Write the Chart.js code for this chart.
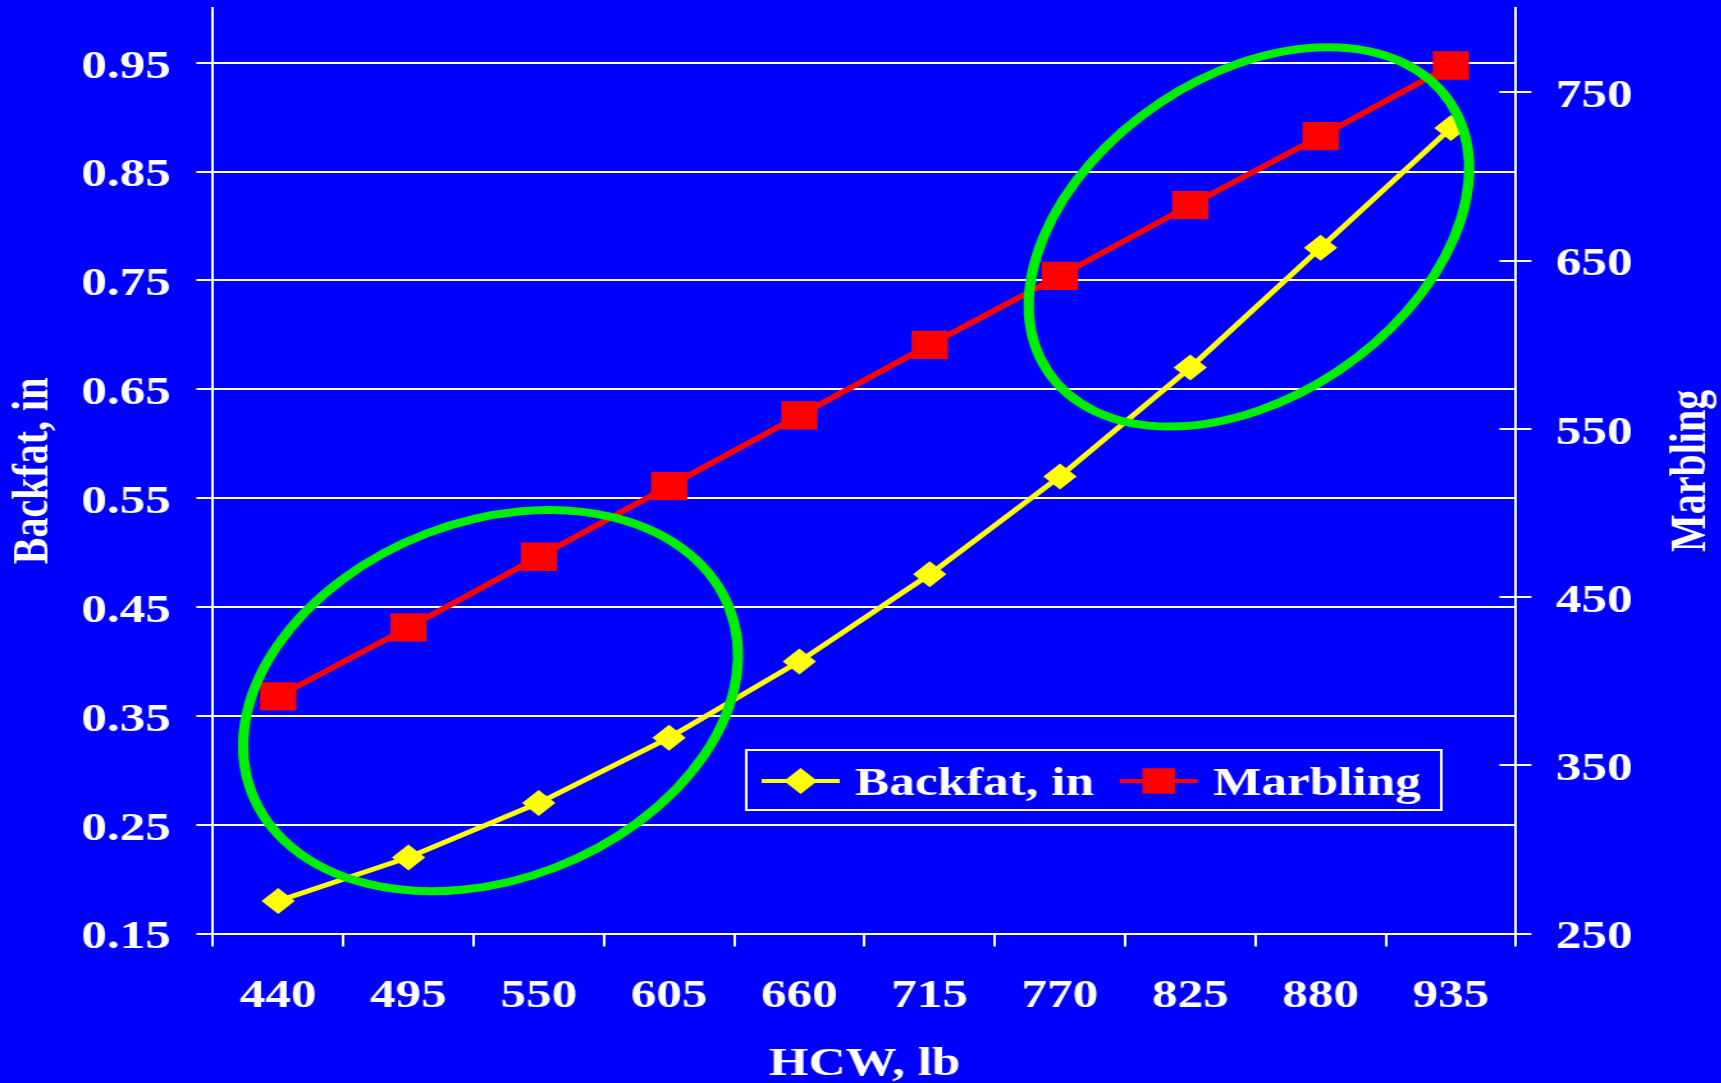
<!DOCTYPE html>
<html>
<head>
<meta charset="utf-8">
<script src="https://cdn.jsdelivr.net/npm/chart.js@4/dist/chart.umd.min.js"></script>
<style>
  html, body { margin: 0; padding: 0; background: #0000ff; overflow: hidden; }
  /* the slide artwork is drawn narrow and widened horizontally */
  #wrap { width: 1345px; height: 1083px; transform: scaleX(1.28); transform-origin: 0 0; }
  canvas { display: block; }
</style>
</head>
<body>
<div id="wrap"><canvas id="chart" width="1345" height="1083"></canvas></div>
<script>
// Hot carcass weight classes (lb)
const hcwLabels = ['440', '495', '550', '605', '660', '715', '770', '825', '880', '935'];
// Backfat thickness (in) per weight class
const backfat = [0.18, 0.22, 0.27, 0.33, 0.40, 0.48, 0.57, 0.67, 0.78, 0.89];
// Marbling score per weight class
const marbling = [391, 432, 474, 516, 558, 600, 641, 683, 724, 766];
// Axis tick values
const backfatTicks = [0.15, 0.25, 0.35, 0.45, 0.55, 0.65, 0.75, 0.85, 0.95];
const marblingTicks = [250, 350, 450, 550, 650, 750];
// Highlighted groups: centre on the weight axis (class index) and backfat axis
const groupCenterIndex = [1.63, 7.45];
const groupCenterBackfat = [0.364, 0.79];

const STRETCH = 1.28;
const FONT = '"Liberation Serif", "Times New Roman", serif';
const WHITE = '#ffffff';

Chart.defaults.font.family = FONT;
Chart.defaults.font.size = 40;
Chart.defaults.font.weight = 'bold';
Chart.defaults.color = WHITE;

// Ellipse outlines around the two groups (radii / tilt in screen pixels)
const groupShapes = [
  { rx: 256, ry: 179, tilt: -21 },
  { rx: 242, ry: 161, tilt: -33.7 }
];

const extrasPlugin = {
  id: 'extras',
  beforeDatasetsDraw(chart) {
    // right axis ticks cross the axis line
    const ctx = chart.ctx;
    const s = chart.scales.y2;
    ctx.save();
    ctx.strokeStyle = WHITE;
    ctx.lineWidth = 2;
    s.ticks.forEach(t => {
      const y = Math.round(s.getPixelForValue(t.value));
      ctx.beginPath();
      ctx.moveTo(s.left - 13, y);
      ctx.lineTo(s.left, y);
      ctx.stroke();
    });
    ctx.restore();
  },
  afterDatasetsDraw(chart) {
    const ctx = chart.ctx;
    const xs = chart.scales.x, ys = chart.scales.y;
    ctx.save();
    ctx.strokeStyle = '#00ee00';
    ctx.lineWidth = 8;
    groupShapes.forEach((g, i) => {
      const cx = xs.getPixelForValue(groupCenterIndex[i]);
      const cy = ys.getPixelForValue(groupCenterBackfat[i]);
      ctx.save();
      ctx.scale(1 / STRETCH, 1);
      ctx.beginPath();
      ctx.ellipse(cx * STRETCH, cy, g.rx, g.ry, g.tilt * Math.PI / 180, 0, Math.PI * 2);
      ctx.restore();
      ctx.stroke();
    });
    ctx.restore();
  },
  afterDraw(chart) {
    const ctx = chart.ctx;
    const area = chart.chartArea;
    // right axis title, reading bottom to top
    ctx.save();
    ctx.fillStyle = WHITE;
    ctx.font = 'bold 40px ' + FONT;
    ctx.textAlign = 'center';
    ctx.textBaseline = 'middle';
    ctx.translate(chart.scales.y2.right - 23.5, (area.top + area.bottom) / 2);
    ctx.rotate(-Math.PI / 2);
    ctx.fillText('Marbling', 0, 0);
    ctx.restore();

    // legend box
    const box = { left: 583, top: 750, width: 543, height: 60 };
    ctx.save();
    ctx.fillStyle = '#0000ff';
    ctx.fillRect(box.left, box.top, box.width, box.height);
    ctx.strokeStyle = WHITE;
    ctx.lineWidth = 2;
    ctx.strokeRect(box.left, box.top, box.width, box.height);
    ctx.font = 'bold 40px ' + FONT;
    ctx.textBaseline = 'middle';
    ctx.textAlign = 'left';
    const cy = box.top + 31;
    let x = box.left + 12;
    chart.data.datasets.forEach(ds => {
      ctx.strokeStyle = ds.borderColor;
      ctx.lineWidth = 4;
      ctx.beginPath();
      ctx.moveTo(x, cy);
      ctx.lineTo(x + 61, cy);
      ctx.stroke();
      ctx.fillStyle = ds.pointBackgroundColor;
      Chart.helpers.drawPoint(ctx, {
        pointStyle: ds.pointStyle,
        radius: ds.legendRadius,
        borderWidth: 0,
        rotation: 0
      }, x + 30.5, cy);
      x += 73;
      ctx.fillStyle = WHITE;
      ctx.fillText(ds.label, x, cy + 3.5);
      x += ctx.measureText(ds.label).width + 20;
    });
    ctx.restore();
  }
};

new Chart(document.getElementById('chart'), {
  type: 'line',
  data: {
    labels: hcwLabels,
    datasets: [
      {
        label: 'Backfat, in',
        data: backfat,
        yAxisID: 'y',
        borderColor: '#ffff00',
        backgroundColor: '#ffff00',
        borderWidth: 4.8,
        pointStyle: 'rectRot',
        pointRadius: 13,
        legendRadius: 13,
        pointBackgroundColor: '#ffff00',
        pointBorderWidth: 0,
        tension: 0
      },
      {
        label: 'Marbling',
        data: marbling,
        yAxisID: 'y2',
        borderColor: '#ff0000',
        backgroundColor: '#ff0000',
        borderWidth: 5.4,
        pointStyle: 'rect',
        pointRadius: 20,
        legendRadius: 18,
        pointBackgroundColor: '#ff0000',
        pointBorderWidth: 0,
        tension: 0
      }
    ]
  },
  options: {
    responsive: false,
    animation: false,
    devicePixelRatio: 1,
    events: [],
    layout: { autoPadding: false, padding: { top: 8.3, left: 0, right: 0, bottom: 0 } },
    plugins: { legend: { display: false }, tooltip: { enabled: false } },
    scales: {
      x: {
        type: 'category',
        offset: true,
        grid: { offset: true, drawOnChartArea: false, drawTicks: true, tickLength: 13, color: WHITE, lineWidth: 2 },
        border: { display: true, color: WHITE, width: 2 },
        ticks: { color: WHITE, padding: 26, maxRotation: 0, autoSkip: false },
        title: {
          display: true, text: 'HCW, lb', color: WHITE,
          font: { size: 40, weight: 'bold', lineHeight: 0.9 },
          padding: { top: 0, bottom: 0.5 }
        },
        afterFit(s) { s.height = 149.4; s.paddingLeft = 0; s.paddingRight = 0; }
      },
      y: {
        position: 'left',
        min: 0.15,
        max: 1.0,
        afterBuildTicks(s) { s.ticks = backfatTicks.map(v => ({ value: v })); },
        grid: { color: WHITE, lineWidth: 2, drawTicks: true, tickLength: 13 },
        border: { display: true, color: WHITE, width: 2 },
        ticks: { color: WHITE, padding: 20, labelOffset: 4.5, callback: v => Number(v).toFixed(2) },
        title: {
          display: true, text: 'Backfat, in', color: WHITE,
          font: { size: 40, weight: 'bold', lineHeight: 1 },
          padding: { top: 6.5, bottom: 0 }
        },
        afterFit(s) { s.width = 166.4; s.paddingTop = 0; s.paddingBottom = 0; }
      },
      y2: {
        position: 'right',
        min: 250,
        max: 800,
        afterBuildTicks(s) { s.ticks = marblingTicks.map(v => ({ value: v })); },
        grid: { drawOnChartArea: false, color: WHITE, lineWidth: 2, drawTicks: true, tickLength: 12 },
        border: { display: true, color: WHITE, width: 2 },
        ticks: { color: WHITE, padding: 19, labelOffset: 4.5 },
        afterFit(s) { s.width = 160.6; s.paddingTop = 0; s.paddingBottom = 0; }
      }
    }
  },
  plugins: [extrasPlugin]
});
</script>
</body>
</html>
